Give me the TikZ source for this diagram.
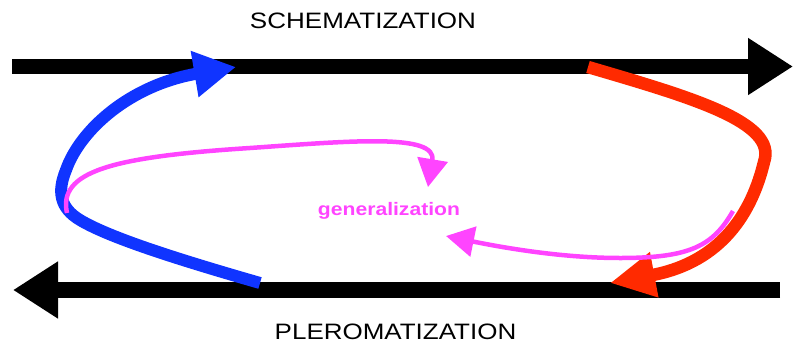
\documentclass[tikz,border=0pt]{standalone}
\usepackage{fontspec}
\setmainfont{Liberation Sans}
\usetikzlibrary{arrows.meta}
\definecolor{cblue}{RGB}{16,52,255}
\definecolor{cred}{RGB}{255,42,0}
\definecolor{cpink}{RGB}{255,68,255}
\tikzset{
  bigarrow/.style={line width=15.5pt,black,-{Triangle[length=45pt,width=54pt]}},
  bluecurve/.style={line width=12pt,cblue,-{Triangle[length=42pt,width=44pt]}},
  redcurve/.style={line width=12.5pt,cred,-{Triangle[length=45pt,width=43pt]}},
  pinkcurve/.style={line width=4.5pt,cpink,-{Triangle[length=28pt,width=30pt]}},
  title/.style={font=\fontsize{22.3}{26}\selectfont,anchor=base,inner sep=0pt},
  genlabel/.style={font=\fontsize{18.1}{22}\selectfont\bfseries,text=cpink,anchor=base,inner sep=0pt}
}
\begin{document}
\begin{tikzpicture}[x=1pt,y=-1pt]
\useasboundingbox (0,0) rectangle (793,346);
% anchor points
\coordinate (topL) at (12,66.5);
\coordinate (topR) at (793,66.5);
\coordinate (botR) at (780,290);
\coordinate (botL) at (13,290);
\coordinate (bS) at (260,283);
\coordinate (bA) at (80,220);
\coordinate (bM) at (66,170);
\coordinate (bE) at (236,67);
\coordinate (rS) at (588,67);
\coordinate (rM) at (764,162);
\coordinate (rE) at (610,283);
\coordinate (pS) at (67,213);
\coordinate (pM) at (250,148);
\coordinate (pE) at (428,187);
\coordinate (qS) at (733,211);
\coordinate (qM) at (620,258);
\coordinate (qE) at (446,236);
% main arrows
\draw[bigarrow] (topL) -- (topR);
\draw[bigarrow] (botR) -- (botL);
% blue
\draw[bluecurve] (bS) .. controls (180,260) and (110,238) .. (bA)
  .. controls (60,208) and (57,192) .. (bM)
  .. controls (80,130) and (130,85) .. (bE);
% red
\draw[redcurve] (rS) .. controls (690,97) and (778,122) .. (rM)
  .. controls (752,212) and (722,262) .. (rE);
% pink upper
\draw[pinkcurve] (pS) .. controls (58,172) and (110,157) .. (pM)
  .. controls (350,141) and (437,133) .. (pE);
% pink lower
\draw[pinkcurve] (qS) .. controls (713,246) and (690,258) .. (qM)
  .. controls (560,258) and (500,247) .. (qE);
% texts
\node[title] (sch) at (363,28) {\scalebox{1.167}[1]{SCHEMATIZATION}};
\node[title] (ple) at (395.5,339) {\scalebox{1.165}[1]{PLEROMATIZATION}};
\node[genlabel] (gen) at (389,215) {\scalebox{1.167}[1]{generalization}};
\end{tikzpicture}
\end{document}
